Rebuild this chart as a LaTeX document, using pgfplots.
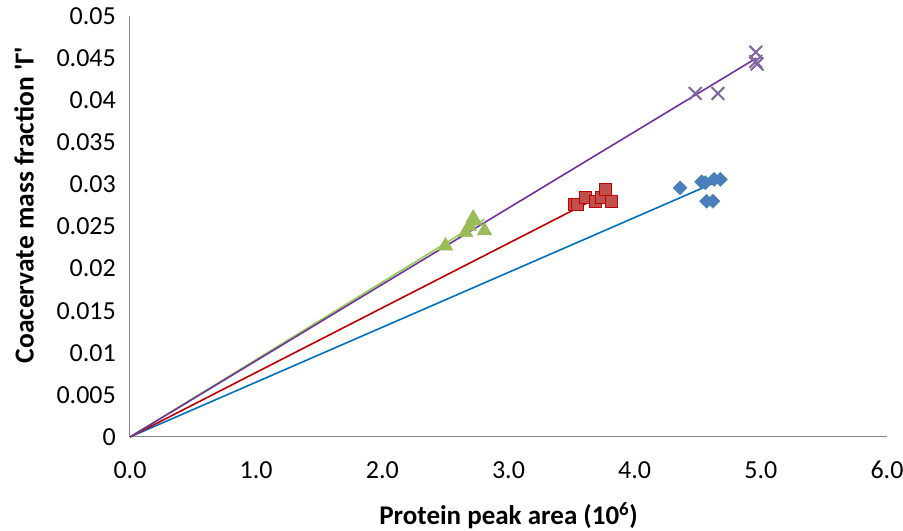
\documentclass[border=0pt]{standalone}
\usepackage{fontspec}
\setmainfont{Carlito}
\newfontfamily\carlplain{Carlito}
\usepackage{pgfplots}
\pgfplotsset{compat=1.18}

\definecolor{axgray}{HTML}{868686}
\definecolor{bluemk}{HTML}{4A7EBB}
\definecolor{blueln}{HTML}{0070C0}
\definecolor{redmk}{HTML}{C0504D}
\definecolor{redln}{HTML}{C00000}
\definecolor{greenmk}{HTML}{9BBB59}
\definecolor{greenln}{HTML}{92D050}
\definecolor{purplemk}{HTML}{8064A2}
\definecolor{purpleln}{HTML}{7030A0}

\begin{document}
\begin{tikzpicture}[font=\fontsize{26}{31}\selectfont]
\begin{axis}[
  scale only axis,
  width=757pt, height=421pt,
  xmin=0, xmax=6, ymin=0, ymax=0.05,
  axis lines*=left,
  axis line style={axgray, line width=1pt},
  major tick length=0pt,
  xtick={0,1,2,3,4,5,6},
  xticklabels={0.0,1.0,2.0,3.0,4.0,5.0,6.0},
  ytick={0,0.005,0.01,0.015,0.02,0.025,0.03,0.035,0.04,0.045,0.05},
  yticklabels={0,0.005,0.01,0.015,0.02,0.025,0.03,0.035,0.04,0.045,0.05},
  scaled y ticks=false,
  xticklabel style={anchor=center, inner sep=0pt, yshift=-33pt},
  yticklabel style={anchor=east, inner sep=0pt, xshift=-14pt},
  xlabel={\textbf{Protein peak area (10\textsuperscript{6})}},
  ylabel={\textbf{Coacervate mass fraction {\carlplain\bfseries 'Γ'}}},
  every axis x label/.style={at={(axis description cs:0.5,-0.188)}, anchor=center, font=\fontsize{27}{32}\selectfont},
  every axis y label/.style={at={(axis description cs:-0.140,0.551)}, rotate=90, anchor=center, font=\fontsize{27.5}{32}\selectfont},
  clip=false,
]
\addplot[only marks, mark=square*, mark size=5pt, mark options={rotate=45, fill=bluemk, draw=bluemk}]
  coordinates {(4.36,0.0296) (4.53,0.0303) (4.56,0.0302) (4.63,0.0306) (4.68,0.0306) (4.57,0.0280) (4.62,0.0280)};
\addplot[only marks, mark=square*, mark size=6pt, mark options={fill=redmk, draw=redln, line width=1pt}]
  coordinates {(3.52,0.0276) (3.55,0.0276) (3.61,0.0285) (3.69,0.0280) (3.74,0.0284) (3.77,0.0294) (3.82,0.0280)};
\addplot[only marks, mark=triangle*, mark size=8.5pt, mark options={fill=greenmk, draw=greenmk}]
  coordinates {(2.50,0.0227) (2.66,0.0243) (2.69,0.0250) (2.72,0.0260) (2.73,0.0257) (2.81,0.0245)};
\addplot[only marks, mark=x, mark size=9pt, mark options={draw=purplemk, line width=2pt}]
  coordinates {(4.48,0.0408) (4.66,0.0408) (4.96,0.0457) (4.96,0.0446) (4.97,0.0443)};
% trendlines through the origin
\addplot[blueln, line width=1.6pt] coordinates {(0,0) (4.68,0.0305)};
\addplot[redln, line width=1.6pt] coordinates {(0,0) (3.82,0.0293)};
\addplot[greenln, line width=1.6pt] coordinates {(0,0) (2.81,0.02585)};
\addplot[purpleln, line width=1.6pt] coordinates {(0,0) (4.965,0.0450)};
\coordinate (ll) at (rel axis cs:0,0);
\coordinate (ur) at (rel axis cs:1,1);
\end{axis}
\pgfresetboundingbox
\path[use as bounding box] ([xshift=-130pt,yshift=-94pt]ll) rectangle ([xshift=16pt,yshift=16pt]ur);
\end{tikzpicture}
\end{document}
